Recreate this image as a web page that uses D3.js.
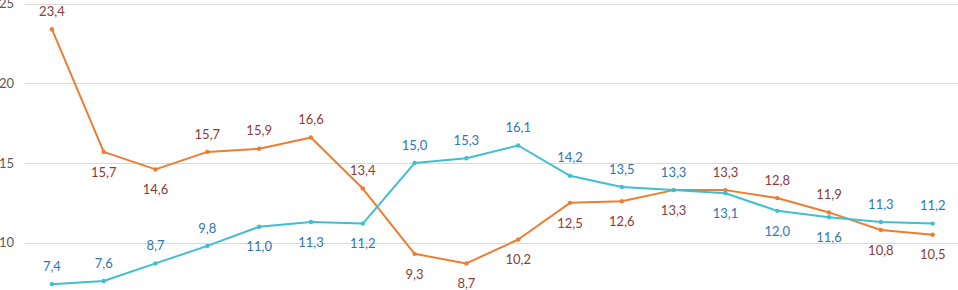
<!DOCTYPE html>
<html><head><meta charset="utf-8">
<script src="https://cdn.jsdelivr.net/npm/d3@7"></script>
<style>
html,body{margin:0;padding:0;background:#fff;overflow:hidden}
svg{display:block;font-family:Lato,"Open Sans",sans-serif}
</style></head>
<body><svg id="c" width="958" height="290"></svg>
<script>
const categories = d3.range(1, 19).map(String);
const orangeValues = [23.4,15.7,14.6,15.7,15.9,16.6,13.4,9.3,8.7,10.2,12.5,12.6,13.3,13.3,12.8,11.9,10.8,10.5];
const blueValues = [7.4,7.6,8.7,9.8,11.0,11.3,11.2,15.0,15.3,16.1,14.2,13.5,13.3,13.1,12.0,11.6,11.3,11.2];
const orangeLabelPos = ["a","b","b","a","a","a","a","b","b","b","b","b","b","a","a","a","b","b"];
const blueLabelPos = ["a","a","a","a","b","b","b","a","a","a","a","a","a","b","b","b","a","a"];
const yTicks = [10,15,20,25];

const svg = d3.select("#c");
const x = d3.scaleBand().domain(categories).range([26, 958.6]);
const y = d3.scaleLinear().domain([10, 25]).range([242.7, 3.7]);
const cx = d => x(d) + x.bandwidth()/2;

// gridlines
svg.append("g").selectAll("line").data(yTicks).join("line")
  .attr("x1", 25).attr("x2", 958)
  .attr("y1", d => Math.round(y(d)) + 0.5).attr("y2", d => Math.round(y(d)) + 0.5)
  .attr("stroke", "#d9d9d9").attr("stroke-width", 1.2);
// axis labels
svg.append("g").selectAll("text").data(yTicks).join("text")
  .attr("x", 14).attr("y", d => y(d)).attr("dy", "0.36em")
  .attr("text-anchor", "end").attr("font-size", 13).attr("fill", "#595959")
  .text(d => d);

function series(vals, lineColor, labelColor, pos) {
  const pts = vals.map((v, i) => [cx(categories[i]), y(v), v, pos[i]]);
  svg.append("path").datum(pts)
    .attr("d", d3.line().x(d => d[0]).y(d => d[1]))
    .attr("fill", "none").attr("stroke", lineColor).attr("stroke-width", 2)
    .attr("stroke-linejoin", "round");
  svg.append("g").selectAll("circle").data(pts).join("circle")
    .attr("cx", d => d[0]).attr("cy", d => d[1]).attr("r", 2.2).attr("fill", lineColor);
  svg.append("g").selectAll("text").data(pts).join("text")
    .attr("x", d => d[0]).attr("y", d => d[3] === "a" ? d[1] - 18 : d[1] + 20)
    .attr("dy", "0.36em").attr("text-anchor", "middle").attr("font-size", 13)
    .attr("fill", labelColor)
    .text(d => d3.format(".1f")(d[2]).replace(".", ","));
}
series(orangeValues, "#ed7d31", "#8b3a3a", orangeLabelPos);
series(blueValues, "#3fbfcf", "#2e75b6", blueLabelPos);
</script></body></html>
